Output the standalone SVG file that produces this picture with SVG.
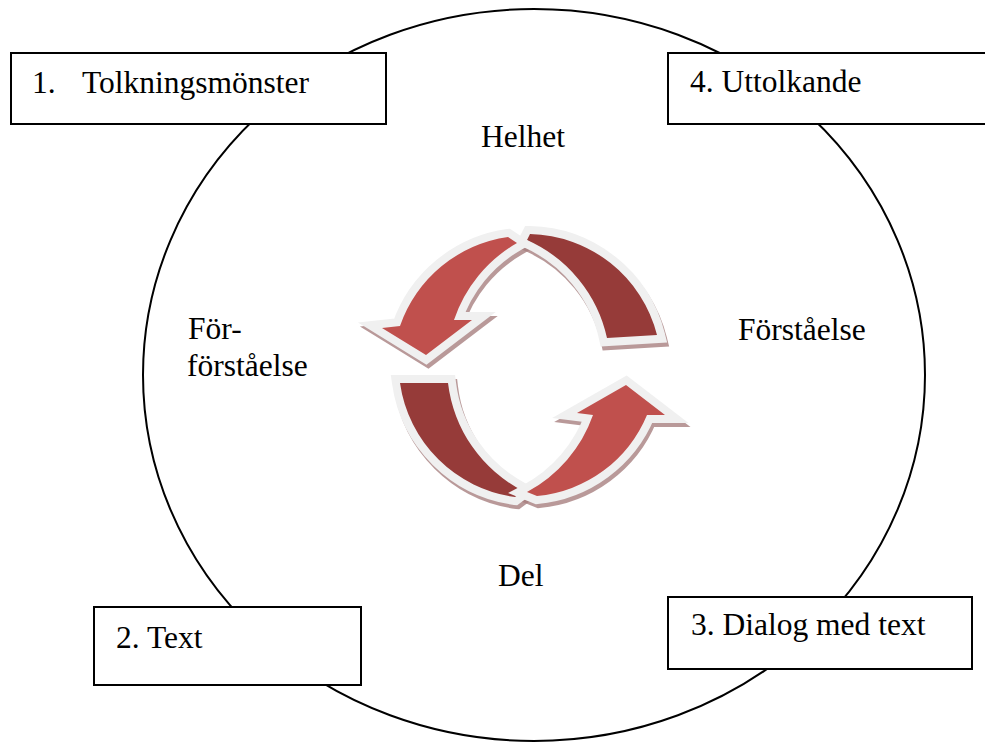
<svg xmlns="http://www.w3.org/2000/svg" width="985" height="742" viewBox="0 0 985 742">
<style>
.box{fill:#fff;stroke:#000;stroke-width:2}
.t{font-family:"Liberation Serif","Times New Roman",serif;font-size:31.5px;fill:#000}
.light{fill:#C0504D}
.dark{fill:#963B39}
.rim{fill:#F0F0F0;stroke:#F0F0F0;stroke-width:16;stroke-linejoin:miter;stroke-miterlimit:6}
.shadow{fill:#A88080;stroke:#A88080;stroke-width:16;stroke-linejoin:miter;stroke-miterlimit:6;opacity:0.8}
</style>
<rect width="985" height="742" fill="#fff"/>
<g id="cycle">
<ellipse cx="534" cy="375" rx="391" ry="366" fill="none" stroke="#000" stroke-width="2"/>
</g>
<g id="arrows">
<defs>
<path id="a1" d="M508,237 A134,134 0 0 0 400,326 L382,328 L426,355 L472,320 L454,320 A140,140 0 0 1 517,243 Z"/>
<path id="a2" d="M530,234 A134,134 0 0 1 657,335 L607,338 A140,140 0 0 0 527,240 Z"/>
<path id="a3" d="M400,383 L448,383 A140,140 0 0 0 523,491 L515,497 A134,134 0 0 1 400,383 Z"/>
<path id="a4" d="M537,496 A132,132 0 0 0 647,415 L665,415 L626,385 L577,413 L593,415 A140,140 0 0 1 527,492 Z"/>
</defs>
<g transform="translate(2,4)">
<use href="#a1" class="shadow"/><use href="#a2" class="shadow"/><use href="#a3" class="shadow"/><use href="#a4" class="shadow"/>
</g>
<use href="#a2" class="rim"/>
<use href="#a2" class="dark"/>
<use href="#a3" class="rim"/>
<use href="#a3" class="dark"/>
<use href="#a1" class="rim"/>
<use href="#a1" class="light"/>
<use href="#a4" class="rim"/>
<use href="#a4" class="light"/>
</g>
<g id="labels">
<text class="t" x="481" y="147">Helhet</text>
<text class="t" x="738" y="340">Förståelse</text>
<text class="t" x="188" y="339">För-</text>
<text class="t" x="187" y="376">förståelse</text>
<text class="t" x="498" y="586">Del</text>
</g>
<g id="node1">
<rect class="box" x="11" y="53" width="375" height="71"/>
<text class="t" x="32" y="93">1.</text>
<text class="t" x="82" y="93">Tolkningsmönster</text>
</g>
<g id="node4">
<rect class="box" x="668" y="53" width="330" height="71"/>
<text class="t" x="690" y="92">4. Uttolkande</text>
</g>
<g id="node2">
<rect class="box" x="94" y="607" width="267" height="78"/>
<text class="t" x="116" y="648">2. Text</text>
</g>
<g id="node3">
<rect class="box" x="668" y="597" width="304" height="72"/>
<text class="t" x="691" y="635">3. Dialog med text</text>
</g>
</svg>
